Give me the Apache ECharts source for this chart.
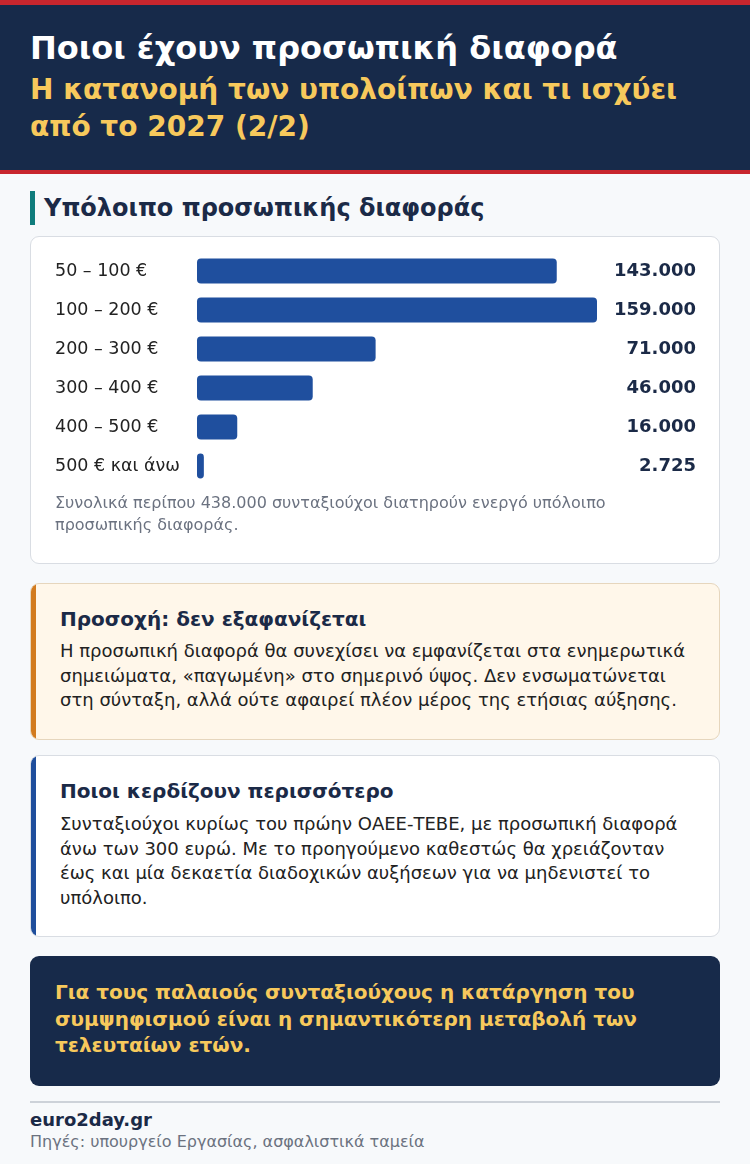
<!DOCTYPE html>
<html><head><meta charset="utf-8">
<script src="https://cdn.jsdelivr.net/npm/echarts@6/dist/echarts.min.js"></script>
<style>
*{margin:0;padding:0;box-sizing:border-box}
body{width:750px;height:1164px;background:#f7f9fb;font-family:"DejaVu Sans",sans-serif;position:relative;overflow:hidden;color:#1b2a47}
.abs{position:absolute;white-space:nowrap}
#top{left:0;top:0;width:750px;height:5px;background:#c8262e}
#hdr{left:0;top:5px;width:750px;height:165px;background:#172a4a}
#hdrline{left:0;top:170px;width:750px;height:4px;background:#c8262e}
#t1{left:30px;top:28px;font-size:32px;font-weight:bold;color:#fff;line-height:40px}
#t2{left:30px;top:71px;font-size:28px;font-weight:bold;color:#f7c95c;line-height:37px}
#secbar{left:30px;top:191px;width:5px;height:34px;background:#0f7c7c}
#sec{left:44px;top:192px;font-size:24px;font-weight:bold;color:#1b2a47;line-height:32px}
.card{position:absolute;left:30px;width:690px;border:1px solid #d9dde3;border-radius:9px;background:#fff}
#card1{top:236px;height:328px}
#chart{position:absolute;left:30px;top:236px;width:690px;height:263px}
#note{left:55px;top:492px;font-size:16px;color:#6b7280;line-height:22px}
#b1{top:583px;height:157px;background:#fff7ea;border-color:#e6d6bd;overflow:hidden}
#b2{top:755px;height:182px;overflow:hidden}
.lb{position:absolute;left:0;top:0;bottom:0;width:5px}
.bh{position:absolute;left:29px;font-size:20px;font-weight:bold;color:#1b2a47;line-height:26px;white-space:nowrap}
.bt{position:absolute;left:29px;font-size:18px;color:#222;line-height:24.5px;white-space:nowrap}
#dark{position:absolute;left:30px;top:956px;width:690px;height:130px;background:#172a4a;border-radius:9px}
#dk{left:25px;top:23px;font-size:20px;font-weight:bold;color:#f7c95c;line-height:26.5px}
#div{left:30px;top:1101px;width:690px;height:2px;background:#cdd2d9}
#src1{left:30px;top:1108px;font-size:18px;font-weight:bold;color:#1b2a47;line-height:24px}
#src2{left:30px;top:1132px;font-size:16px;color:#6b7280;line-height:20px}
</style></head>
<body>
<div class="abs" id="top"></div>
<div class="abs" id="hdr"></div>
<div class="abs" id="hdrline"></div>
<div class="abs" id="t1">Ποιοι έχουν προσωπική διαφορά</div>
<div class="abs" id="t2">Η κατανομή των υπολοίπων και τι ισχύει<br>από το 2027 (2/2)</div>
<div class="abs" id="secbar"></div>
<div class="abs" id="sec">Υπόλοιπο προσωπικής διαφοράς</div>
<div class="card" id="card1"></div>
<div id="chart"></div>
<div class="abs" id="note">Συνολικά περίπου 438.000 συνταξιούχοι διατηρούν ενεργό υπόλοιπο<br>προσωπικής διαφοράς.</div>
<div class="card" id="b1"><div class="lb" style="background:#d27b1f"></div>
<div class="bh" style="top:22px">Προσοχή: δεν εξαφανίζεται</div>
<div class="bt" style="top:55px">Η προσωπική διαφορά θα συνεχίσει να εμφανίζεται στα ενημερωτικά<br>σημειώματα, «παγωμένη» στο σημερινό ύψος. Δεν ενσωματώνεται<br>στη σύνταξη, αλλά ούτε αφαιρεί πλέον μέρος της ετήσιας αύξησης.</div>
</div>
<div class="card" id="b2"><div class="lb" style="background:#1f4e9c"></div>
<div class="bh" style="top:22px">Ποιοι κερδίζουν περισσότερο</div>
<div class="bt" style="top:56px">Συνταξιούχοι κυρίως του πρώην ΟΑΕΕ-ΤΕΒΕ, με προσωπική διαφορά<br>άνω των 300 ευρώ. Με το προηγούμενο καθεστώς θα χρειάζονταν<br>έως και μία δεκαετία διαδοχικών αυξήσεων για να μηδενιστεί το<br>υπόλοιπο.</div>
</div>
<div id="dark"><div class="abs" id="dk">Για τους παλαιούς συνταξιούχους η κατάργηση του<br>συμψηφισμού είναι η σημαντικότερη μεταβολή των<br>τελευταίων ετών.</div></div>
<div class="abs" id="div"></div>
<div class="abs" id="src1">euro2day.gr</div>
<div class="abs" id="src2">Πηγές: υπουργείο Εργασίας, ασφαλιστικά ταμεία</div>
<script>
const categories = ["50 – 100 €", "100 – 200 €", "200 – 300 €", "300 – 400 €", "400 – 500 €", "500 € και άνω"];
const values = [143000, 159000, 71000, 46000, 16000, 2725];
const valueLabels = ["143.000", "159.000", "71.000", "46.000", "16.000", "2.725"];

const chart = echarts.init(document.getElementById('chart'), null, {renderer: 'canvas'});
chart.setOption({
  animation: false,
  grid: {left: 167, right: 123, top: 15.5, height: 234},
  xAxis: {type: 'value', min: 0, max: 159000, show: false},
  yAxis: [
    {type: 'category', data: categories, inverse: true,
     axisLine: {show: false}, axisTick: {show: false},
     axisLabel: {align: 'left', margin: 142, fontSize: 17.5, color: '#222', fontFamily: 'DejaVu Sans'}},
    {type: 'category', data: valueLabels, inverse: true, position: 'right',
     axisLine: {show: false}, axisTick: {show: false},
     axisLabel: {align: 'right', margin: 99, fontSize: 18, fontWeight: 'bold', color: '#1b2a47', fontFamily: 'DejaVu Sans'}}
  ],
  series: [{
    type: 'bar', data: values, barWidth: 25,
    itemStyle: {color: '#1f4f9e', borderRadius: 4}
  }]
});
</script>
</body></html>
